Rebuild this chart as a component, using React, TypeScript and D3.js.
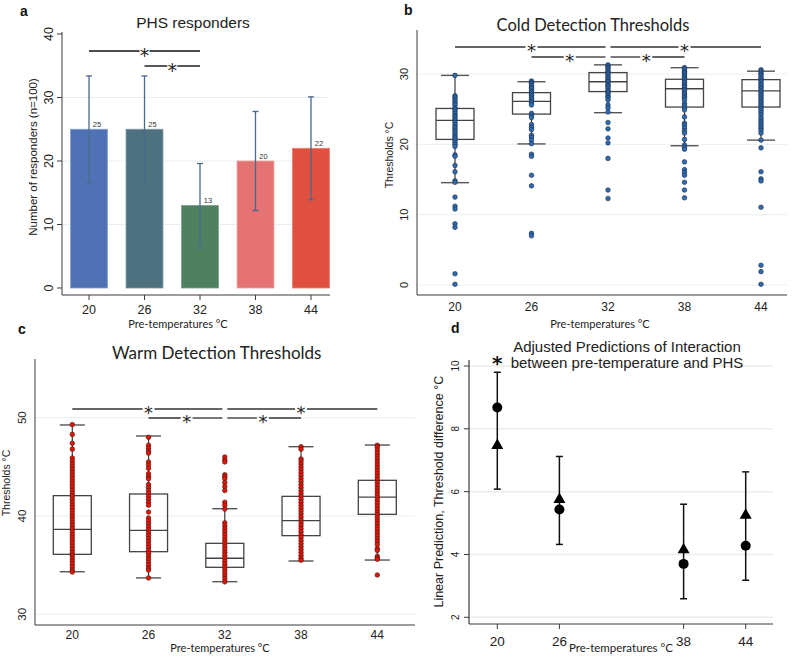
import React from 'react';
import * as d3 from 'd3';

// ---------- data ----------
const cats = ['20', '26', '32', '38', '44'];

// Panel a: PHS responders
const phsCounts = [25, 25, 13, 20, 22];
const phsLo = [16.5, 16.5, 6.3, 12.2, 13.9];
const phsHi = [33.4, 33.4, 19.6, 27.8, 30.1];
const phsTicks = [0, 10, 20, 30, 40];
const phsGrid = [10, 20, 30];
const barColors = ['#5072b5', '#4e717f', '#4f8160', '#e57373', '#e05040'];
const barEdges = ['#86a0d2', '#7a97a3', '#7aa488', '#f0a0a0', '#ec8070'];

// Panel b: Cold detection thresholds
const cdtQ1 = [20.7, 24.3, 27.5, 25.3, 25.3];
const cdtMed = [23.4, 26.1, 28.9, 27.9, 27.6];
const cdtQ3 = [25.1, 27.35, 30.2, 29.25, 29.2];
const cdtLo = [14.55, 20.06, 24.5, 19.8, 20.6];
const cdtHi = [29.8, 28.9, 31.3, 30.9, 30.4];
const cdt20 = [29.8, 26.9, 26.7, 26.4, 26.1, 25.8, 25.6, 25.2, 25.0, 24.7, 24.4, 24.1, 23.9, 23.6, 23.4, 23.1, 22.8, 22.5, 22.3, 22.0, 21.7, 21.4, 21.1, 20.9, 20.6, 20.3, 20.0, 19.7, 18.5, 18.3, 17.0, 16.1, 14.8, 14.6, 12.5, 11.2, 10.8, 8.7, 8.2, 1.6, 0.1];
const cdt26 = [29.0, 28.8, 28.6, 28.4, 28.1, 27.9, 27.6, 27.4, 27.1, 26.9, 26.6, 26.4, 26.1, 25.9, 25.6, 24.4, 24.1, 23.8, 22.8, 22.4, 22.1, 21.3, 21.0, 20.6, 20.1, 18.6, 18.3, 15.6, 14.1, 7.35, 7.0];
const cdt32 = [31.3, 31.1, 30.9, 30.7, 30.4, 30.2, 30.0, 29.8, 29.5, 29.3, 29.1, 28.9, 28.6, 28.4, 28.2, 28.0, 27.7, 27.5, 27.3, 27.0, 26.8, 26.6, 26.3, 25.6, 25.2, 24.6, 23.1, 22.2, 20.9, 20.2, 18.0, 13.5, 12.3];
const cdt38 = [30.9, 30.7, 30.4, 30.2, 30.0, 29.7, 29.5, 29.3, 29.0, 28.8, 28.5, 28.3, 28.1, 27.8, 27.6, 27.3, 27.1, 26.8, 26.6, 26.3, 25.8, 25.5, 25.2, 24.9, 23.9, 23.0, 22.7, 22.3, 21.9, 21.6, 20.7, 19.9, 19.6, 19.3, 17.5, 16.4, 16.0, 15.6, 14.6, 13.5, 12.4];
const cdt44 = [30.6, 30.4, 30.1, 29.9, 29.6, 29.4, 29.1, 28.9, 28.6, 28.4, 28.1, 27.9, 27.6, 27.4, 27.1, 26.9, 26.6, 26.4, 26.1, 25.9, 25.6, 25.4, 25.1, 24.8, 24.5, 24.2, 23.8, 23.5, 23.2, 22.9, 22.6, 22.3, 22.0, 21.6, 20.6, 19.5, 16.1, 15.1, 14.8, 11.05, 2.8, 1.9, 0.1];
const cdtTicks = [0, 10, 20, 30];

// Panel c: Warm detection thresholds
const wdtQ1 = [36.1, 36.37, 34.78, 38.0, 40.17];
const wdtMed = [38.64, 38.54, 35.7, 39.52, 41.93];
const wdtQ3 = [42.07, 42.24, 37.22, 42.0, 43.63];
const wdtLo = [34.33, 33.7, 33.32, 35.42, 35.52];
const wdtHi = [49.26, 48.14, 40.74, 47.05, 47.22];
const wdt20 = [49.3, 48.3, 47.4, 46.8, 45.9, 45.6, 45.3, 45.0, 44.7, 44.4, 44.1, 43.8, 43.5, 43.2, 42.9, 42.6, 42.3, 42.0, 41.7, 41.4, 41.1, 40.8, 40.5, 40.2, 39.9, 39.6, 39.3, 39.0, 38.7, 38.4, 38.1, 37.8, 37.5, 37.2, 36.9, 36.6, 36.3, 36.0, 35.7, 35.4, 35.1, 34.8, 34.5, 34.3];
const wdt26 = [48.0, 47.2, 46.9, 46.6, 46.4, 45.5, 45.2, 44.85, 44.3, 44.0, 43.8, 43.2, 42.9, 42.6, 42.3, 42.0, 41.7, 41.4, 41.1, 40.4, 39.8, 39.5, 39.2, 38.9, 38.6, 38.3, 38.0, 37.7, 37.4, 37.1, 36.8, 36.5, 36.2, 35.9, 35.6, 35.3, 35.0, 34.7, 34.5, 33.7];
const wdt32 = [46.0, 45.7, 45.5, 44.2, 44.0, 43.8, 43.4, 43.0, 42.6, 41.4, 41.1, 40.7, 39.3, 39.0, 38.7, 38.4, 38.1, 37.8, 37.5, 37.2, 36.9, 36.6, 36.3, 36.0, 35.7, 35.4, 35.1, 34.8, 34.5, 34.2, 33.9, 33.6, 33.3];
const wdt38 = [47.05, 46.8, 45.8, 45.6, 45.3, 45.0, 44.7, 44.4, 44.1, 43.8, 43.5, 43.2, 42.9, 42.6, 42.3, 42.0, 41.7, 41.4, 41.1, 40.8, 40.5, 40.2, 39.9, 39.6, 39.3, 39.0, 38.7, 38.4, 38.1, 37.8, 37.5, 37.2, 36.9, 36.6, 36.3, 36.0, 35.7, 35.5];
const wdt44 = [47.2, 47.0, 46.7, 46.4, 46.1, 45.8, 45.5, 45.2, 44.9, 44.6, 44.3, 44.0, 43.7, 43.4, 43.1, 42.8, 42.5, 42.2, 41.9, 41.6, 41.3, 41.0, 40.7, 40.4, 40.1, 39.8, 39.5, 39.2, 38.9, 38.6, 38.3, 38.0, 37.7, 37.4, 37.1, 36.7, 36.5, 35.9, 35.7, 35.6, 34.0];
const wdtTicks = [30, 40, 50];

// Significance brackets: [from, to, level]
const sigA: [string, string, number][] = [['20', '32', 0], ['26', '32', 1]];
const sigBC: [string, string, number][] = [['20', '32', 0], ['32', '44', 0], ['26', '32', 1], ['32', '38', 1]];

// Panel d: adjusted predictions
const predX = [20, 26, 38, 44];
const predCircle = [8.68, 5.43, 3.70, 4.28];
const predTriangle = [7.47, 5.75, 4.15, 5.25];
const predLo = [6.08, 4.32, 2.59, 3.18];
const predHi = [9.80, 7.12, 5.60, 6.63];
const predTicks = [2, 4, 6, 8, 10];

// ---------- styles ----------
const ARIAL = "'Liberation Sans', Arial, Helvetica, sans-serif";
const CAL = "Lato, 'Open Sans', sans-serif";
const STARF = "'DejaVu Sans', sans-serif";
const AX = '#3a3a3a';

function Star({ x, y, size = 20 }: { x: number; y: number; size?: number }) {
  return (
    <text x={x} y={y + size * 0.56} textAnchor="middle" fontFamily={STARF} fontSize={size} fill="#222">*</text>
  );
}

function SigBrackets({ sx, sig, y0, y1, gap, starSize, stroke, sw, splitEnd }:
  { sx: (c: string) => number; sig: [string, string, number][]; y0: number; y1: number; gap: number; starSize: number; stroke: string; sw: number; splitEnd: number }) {
  return (
    <g>
      {sig.map(([a, b, lev], i) => {
        let x1 = sx(a);
        let x2 = sx(b);
        if (a === '32') x1 += splitEnd;
        if (b === '32') x2 -= splitEnd;
        const xm = (sx(a) + sx(b)) / 2;
        const y = lev === 0 ? y0 : y1;
        return (
          <g key={i}>
            <line x1={x1} x2={xm - gap} y1={y} y2={y} stroke={stroke} strokeWidth={sw} />
            <line x1={xm + gap} x2={x2} y1={y} y2={y} stroke={stroke} strokeWidth={sw} />
            <Star x={xm} y={y} size={starSize} />
          </g>
        );
      })}
    </g>
  );
}

function BoxPlot({ sx, sy, groups, q1, med, q3, lo, hi, fill, dotStroke, boxW, capW }: any) {
  return (
    <g>
      {cats.map((c: string, i: number) => {
        const cx = sx(c);
        return (
          <g key={c}>
            <line x1={cx} x2={cx} y1={sy(hi[i])} y2={sy(q3[i])} stroke={AX} strokeWidth={1.2} />
            <line x1={cx} x2={cx} y1={sy(q1[i])} y2={sy(lo[i])} stroke={AX} strokeWidth={1.2} />
            <line x1={cx - capW / 2} x2={cx + capW / 2} y1={sy(hi[i])} y2={sy(hi[i])} stroke="#555" strokeWidth={1.4} />
            <line x1={cx - capW / 2} x2={cx + capW / 2} y1={sy(lo[i])} y2={sy(lo[i])} stroke="#555" strokeWidth={1.4} />
            <rect x={cx - boxW / 2} width={boxW} y={sy(q3[i])} height={sy(q1[i]) - sy(q3[i])} fill="none" stroke="#444" strokeWidth={1.3} />
            <line x1={cx - boxW / 2} x2={cx + boxW / 2} y1={sy(med[i])} y2={sy(med[i])} stroke="#444" strokeWidth={1.3} />
            {groups[i].map((v: number, j: number) => (
              <circle key={j} cx={cx} cy={sy(v)} r={2.3} fill={fill} stroke={dotStroke} strokeWidth={0.6} />
            ))}
          </g>
        );
      })}
    </g>
  );
}

export default function App() {
  // ---- Panel a scales ----
  const xA = d3.scalePoint<string>().domain(cats).range([89, 311]);
  const yA = d3.scaleLinear().domain([0, 40]).range([288, 34]);
  const barW = xA.step() * 0.665;

  // ---- Panel b ----
  const xB = d3.scalePoint<string>().domain(cats).range([455, 761]);
  const yB = d3.scaleLinear().domain([0, 30]).range([285, 74]);

  // ---- Panel c ----
  const xC = d3.scalePoint<string>().domain(cats).range([72.3, 377.3]);
  const yC = d3.scaleLinear().domain([30, 50]).range([614.3, 417.7]);

  // ---- Panel d ----
  const xD = d3.scaleLinear().domain([20, 44]).range([497.3, 745.7]);
  const yD = d3.scaleLinear().domain([2, 10]).range([617.3, 366]);

  const tri = d3.symbol().type(d3.symbolTriangle).size(62)();

  return (
    <svg width={800} height={657} style={{ position: 'absolute', left: 0, top: 0, background: '#fff' }}>
      <rect width={800} height={657} fill="#fff" />

      {/* ================= Panel a ================= */}
      <g>
        <text x={20} y={16} fontFamily={ARIAL} fontWeight="bold" fontSize={14} fill="#111">a</text>
        <text x={193} y={28} textAnchor="middle" fontFamily={ARIAL} fontSize={15.5} fill="#222">PHS responders</text>
        {phsGrid.map(t => (
          <line key={t} x1={62} x2={329} y1={yA(t)} y2={yA(t)} stroke="#e6f0f0" strokeWidth={1} />
        ))}
        {cats.map((c, i) => (
          <rect key={c} x={xA(c)! - barW / 2} width={barW} y={yA(phsCounts[i])} height={yA(0) - yA(phsCounts[i])}
            fill={barColors[i]} stroke={barEdges[i]} strokeWidth={0.8} />
        ))}
        {cats.map((c, i) => (
          <g key={c}>
            <line x1={xA(c)} x2={xA(c)} y1={yA(phsLo[i])} y2={yA(phsHi[i])} stroke="#4a6a8c" strokeWidth={1.3} />
            <line x1={xA(c)! - 3} x2={xA(c)! + 3} y1={yA(phsLo[i])} y2={yA(phsLo[i])} stroke="#4a6a8c" strokeWidth={1.3} />
            <line x1={xA(c)! - 3} x2={xA(c)! + 3} y1={yA(phsHi[i])} y2={yA(phsHi[i])} stroke="#4a6a8c" strokeWidth={1.3} />
            <text x={xA(c)! + 8} y={yA(phsCounts[i]) - 2} textAnchor="middle" fontFamily={ARIAL} fontSize={7.5} fill="#333">{phsCounts[i]}</text>
          </g>
        ))}
        <line x1={62} x2={62} y1={32} y2={295} stroke={AX} strokeWidth={1} />
        <line x1={62} x2={330} y1={295} y2={295} stroke={AX} strokeWidth={1} />
        {phsTicks.map(t => (
          <g key={t}>
            <line x1={57} x2={62} y1={yA(t)} y2={yA(t)} stroke={AX} />
            <text transform={`translate(53,${yA(t)}) rotate(-90)`} textAnchor="middle" fontFamily={ARIAL} fontSize={12.5} fill="#222">{t}</text>
          </g>
        ))}
        {cats.map(c => (
          <g key={c}>
            <line x1={xA(c)} x2={xA(c)} y1={295} y2={300} stroke={AX} />
            <text x={xA(c)} y={314} textAnchor="middle" fontFamily={ARIAL} fontSize={12.5} fill="#222">{c}</text>
          </g>
        ))}
        <text transform="translate(37,157) rotate(-90)" textAnchor="middle" fontFamily={ARIAL} fontSize={11.5} fill="#222">Number of responders (n=100)</text>
        <text x={178} y={328} textAnchor="middle" fontFamily={CAL} fontSize={11} fill="#222">Pre-temperatures °C</text>
        <SigBrackets sx={(c: string) => xA(c)!} sig={sigA} y0={51} y1={66} gap={5} starSize={19} stroke="#111" sw={1.4} splitEnd={0} />
      </g>

      {/* ================= Panel b ================= */}
      <g>
        <text x={404} y={15} fontFamily={ARIAL} fontWeight="bold" fontSize={14} fill="#111">b</text>
        <text x={593} y={30.5} textAnchor="middle" fontFamily={CAL} fontSize={16.5} fill="#222">Cold Detection Thresholds</text>
        {cdtTicks.map(t => (
          <line key={t} x1={417} x2={787} y1={yB(t)} y2={yB(t)} stroke="#e6f0f2" strokeWidth={1} />
        ))}
        <BoxPlot sx={(c: string) => xB(c)!} sy={yB} groups={[cdt20, cdt26, cdt32, cdt38, cdt44]}
          q1={cdtQ1} med={cdtMed} q3={cdtQ3} lo={cdtLo} hi={cdtHi} fill="#2f6cb3" dotStroke="#1b2a44" boxW={38} capW={28} />
        <line x1={417} x2={417} y1={30} y2={295} stroke={AX} strokeWidth={1} />
        <line x1={417} x2={787} y1={295} y2={295} stroke={AX} strokeWidth={1} />
        {cdtTicks.map(t => (
          <text key={t} transform={`translate(407.5,${yB(t)}) rotate(-90)`} textAnchor="middle" fontFamily={ARIAL} fontSize={11} fill="#222">{t}</text>
        ))}
        {cats.map(c => (
          <text key={c} x={xB(c)} y={311} textAnchor="middle" fontFamily={ARIAL} fontSize={12} fill="#222">{c}</text>
        ))}
        <text transform="translate(393,155) rotate(-90)" textAnchor="middle" fontFamily={ARIAL} fontSize={10.5} fill="#222">Thresholds °C</text>
        <text x={600} y={328} textAnchor="middle" fontFamily={CAL} fontSize={11} fill="#222">Pre-temperatures °C</text>
        <SigBrackets sx={(c: string) => xB(c)!} sig={sigBC} y0={47} y1={57} gap={6} starSize={18} stroke="#333" sw={1.3} splitEnd={2.5} />
      </g>

      {/* ================= Panel c ================= */}
      <g>
        <text x={18} y={334} fontFamily={ARIAL} fontWeight="bold" fontSize={14} fill="#111">c</text>
        <text x={216.7} y={359.3} textAnchor="middle" fontFamily={CAL} fontSize={17} fill="#222">Warm Detection Thresholds</text>
        {wdtTicks.map(t => (
          <line key={t} x1={35} x2={415} y1={yC(t)} y2={yC(t)} stroke="#e6f0f2" strokeWidth={1} />
        ))}
        <BoxPlot sx={(c: string) => xC(c)!} sy={yC} groups={[wdt20, wdt26, wdt32, wdt38, wdt44]}
          q1={wdtQ1} med={wdtMed} q3={wdtQ3} lo={wdtLo} hi={wdtHi} fill="#e3170a" dotStroke="#4a1208" boxW={38} capW={25} />
        <line x1={35} x2={35} y1={359} y2={625} stroke={AX} strokeWidth={1} />
        <line x1={35} x2={415} y1={625} y2={625} stroke={AX} strokeWidth={1} />
        {wdtTicks.map(t => (
          <text key={t} transform={`translate(26,${yC(t)}) rotate(-90)`} textAnchor="middle" fontFamily={ARIAL} fontSize={11.5} fill="#222">{t}</text>
        ))}
        {cats.map(c => (
          <text key={c} x={xC(c)} y={638.5} textAnchor="middle" fontFamily={ARIAL} fontSize={12} fill="#222">{c}</text>
        ))}
        <text transform="translate(9.5,483) rotate(-90)" textAnchor="middle" fontFamily={ARIAL} fontSize={10.5} fill="#222">Thresholds °C</text>
        <text x={220} y={652} textAnchor="middle" fontFamily={CAL} fontSize={11} fill="#222">Pre-temperatures °C</text>
        <SigBrackets sx={(c: string) => xC(c)!} sig={sigBC} y0={409} y1={418} gap={6} starSize={18} stroke="#333" sw={1.3} splitEnd={2.5} />
      </g>

      {/* ================= Panel d ================= */}
      <g>
        <text x={451} y={333} fontFamily={ARIAL} fontWeight="bold" fontSize={14} fill="#111">d</text>
        {predTicks.map(t => (
          <line key={t} x1={469} x2={773} y1={yD(t)} y2={yD(t)} stroke="#ececec" strokeWidth={1.5} />
        ))}
        <text x={627} y={351.5} textAnchor="middle" fontFamily={ARIAL} fontSize={15} fill="#222">Adjusted Predictions of Interaction</text>
        <text x={627} y={368} textAnchor="middle" fontFamily={ARIAL} fontSize={15} fill="#222">between pre-temperature and PHS</text>
        <text x={xD(20)} y={370} textAnchor="middle" fontFamily={STARF} fontWeight="bold" fontSize={20} fill="#111">*</text>
        {predX.map((p, i) => (
          <g key={p}>
            <line x1={xD(p)} x2={xD(p)} y1={yD(predLo[i])} y2={yD(predHi[i])} stroke="#111" strokeWidth={1.5} />
            <line x1={xD(p) - 3.5} x2={xD(p) + 3.5} y1={yD(predLo[i])} y2={yD(predLo[i])} stroke="#111" strokeWidth={1.5} />
            <line x1={xD(p) - 3.5} x2={xD(p) + 3.5} y1={yD(predHi[i])} y2={yD(predHi[i])} stroke="#111" strokeWidth={1.5} />
            <path d={tri!} transform={`translate(${xD(p)},${yD(predTriangle[i])})`} fill="#000" />
            <circle cx={xD(p)} cy={yD(predCircle[i])} r={5} fill="#000" />
          </g>
        ))}
        <line x1={469} x2={469} y1={360} y2={624} stroke={AX} strokeWidth={1.2} />
        <line x1={469} x2={773} y1={624} y2={624} stroke={AX} strokeWidth={1.2} />
        {predTicks.map(t => (
          <g key={t}>
            <line x1={464} x2={469} y1={yD(t)} y2={yD(t)} stroke={AX} />
            <text transform={`translate(458.5,${yD(t)}) rotate(-90)`} textAnchor="middle" fontFamily={ARIAL} fontSize={10} fill="#222">{t}</text>
          </g>
        ))}
        {predX.map(p => (
          <g key={p}>
            <line x1={xD(p)} x2={xD(p)} y1={624} y2={629} stroke={AX} />
            <text x={xD(p)} y={646} textAnchor="middle" fontFamily={ARIAL} fontSize={13.5} fill="#222">{p}</text>
          </g>
        ))}
        <text transform="translate(443,491.7) rotate(-90)" textAnchor="middle" fontFamily={ARIAL} fontSize={12.5} fill="#222">Linear Prediction, Threshold difference °C</text>
        <text x={621} y={652} textAnchor="middle" fontFamily={CAL} fontSize={11.5} fill="#222">Pre-temperatures °C</text>
      </g>
    </svg>
  );
}
